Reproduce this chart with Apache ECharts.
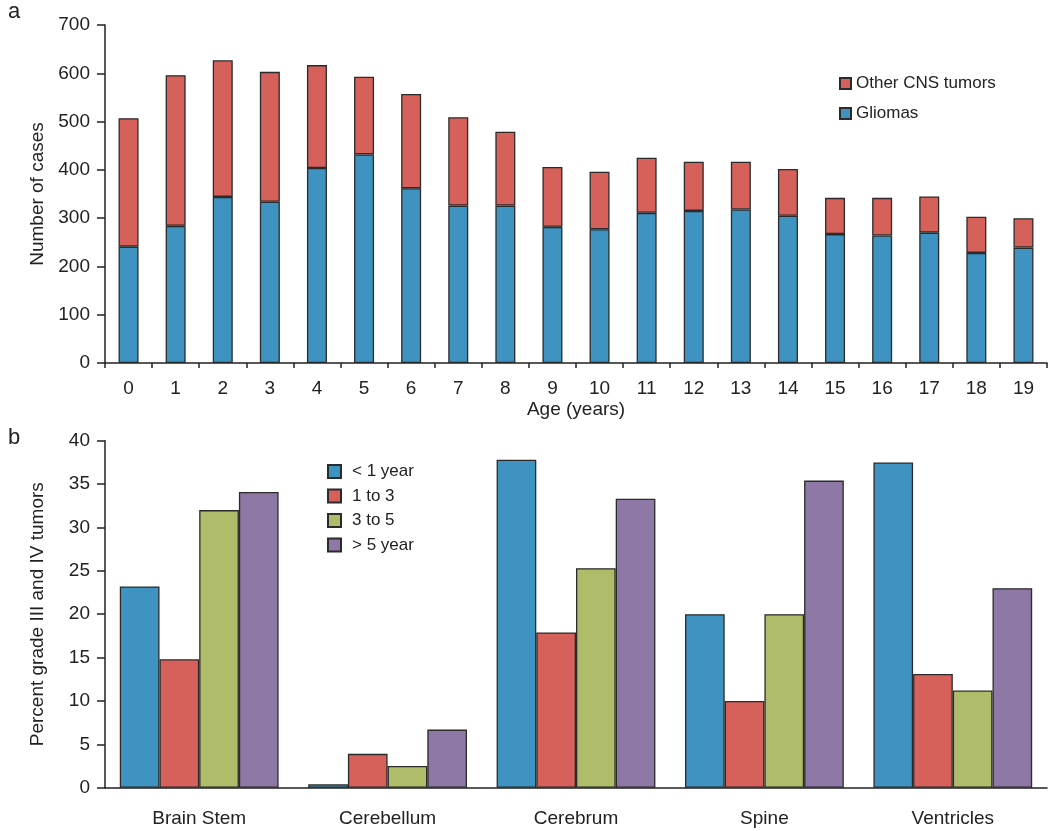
<!DOCTYPE html>
<html>
<head>
<meta charset="utf-8">
<script src="https://cdn.jsdelivr.net/npm/echarts@6/dist/echarts.min.js"></script>
<style>
html,body{margin:0;padding:0;background:#fff;}
#c{width:1050px;height:831px;}
</style>
</head>
<body>
<div id="c"></div>
<script>
// Panel a data
var ages = ['0','1','2','3','4','5','6','7','8','9','10','11','12','13','14','15','16','17','18','19'];
var gliomas = [241,284,344,334,404,432,362,326,326,282,277,311,315,318,305,267,264,270,228,239];
var totals  = [507,596,627,603,617,593,557,509,479,406,396,425,417,417,402,342,342,345,303,300];
var otherCNS = totals.map(function(t,i){ return t - gliomas[i]; });
var yTicksA = [0,100,200,300,400,500,600,700];

// Panel b data
var locations = ['Brain Stem','Cerebellum','Cerebrum','Spine','Ventricles'];
var lt1year  = [23.2, 0.4, 37.8, 20.0, 37.5];
var y1to3    = [14.8, 3.9, 17.9, 10.0, 13.1];
var y3to5    = [32.0, 2.5, 25.3, 20.0, 11.2];
var gt5year  = [34.1, 6.7, 33.3, 35.4, 23.0];

var cBlue = '#3f93c0', cRed = '#d5615a', cGreen = '#afbc69', cPurple = '#8d78a6';
var border = '#2b2b2b';
var font = 'Liberation Sans, Arial, sans-serif';
var txt = '#222';

var chart = echarts.init(document.getElementById('c'), null, {renderer:'canvas'});

function itemStyle(c){ return {color:c, borderColor:border, borderWidth:1.3}; }

var option = {
  animation:false,
  backgroundColor:'#fff',
  textStyle:{fontFamily:font, color:txt},
  graphic:[
    {type:'text', left:8, top:1, style:{text:'a', font:'22px '+font, fill:txt}},
    {type:'text', left:8, top:427, style:{text:'b', font:'22px '+font, fill:txt}}
  ],
  legend:[
    {orient:'vertical', left:834, top:70, itemWidth:11, itemHeight:11, itemGap:13,
     icon:'rect', data:['Other CNS tumors','Gliomas'],
     textStyle:{fontSize:17, color:txt, fontFamily:font}},
    {orient:'vertical', left:322, top:458, itemWidth:13, itemHeight:13, itemGap:7.5,
     icon:'rect', data:['< 1 year','1 to 3','3 to 5','> 5 year'],
     textStyle:{fontSize:17, color:txt, fontFamily:font, padding:[0,0,0,6]}}
  ],
  grid:[
    {left:105, right:3, top:25, height:338},
    {left:105, right:3, top:440.7, height:347}
  ],
  xAxis:[
    {type:'category', gridIndex:0, data:ages, boundaryGap:true,
     name:'Age (years)', nameLocation:'middle', nameGap:37,
     nameTextStyle:{fontSize:19, color:txt, fontFamily:font},
     axisLine:{lineStyle:{color:'#222', width:1.5}},
     axisTick:{show:true, alignWithLabel:false, length:5, lineStyle:{color:'#222', width:1.5}},
     axisLabel:{fontSize:19, color:txt, margin:16, interval:0}},
    {type:'category', gridIndex:1, data:locations,
     axisLine:{lineStyle:{color:'#222', width:1.5}},
     axisTick:{show:false},
     axisLabel:{fontSize:19, color:txt, margin:22}}
  ],
  yAxis:[
    {type:'value', gridIndex:0, min:0, max:700, interval:100,
     name:'Number of cases', nameLocation:'middle', nameGap:58,
     nameTextStyle:{fontSize:19, color:txt, fontFamily:font},
     axisLine:{show:true, lineStyle:{color:'#222', width:1.5}},
     axisTick:{show:true, length:8, lineStyle:{color:'#222', width:1.5}},
     splitLine:{show:false},
     axisLabel:{fontSize:19, color:txt, margin:15,
       formatter:function(v){ return yTicksA.indexOf(v) >= 0 ? String(v) : ''; }}},
    {type:'value', gridIndex:1, min:0, max:40, interval:5,
     name:'Percent grade III and IV tumors', nameLocation:'middle', nameGap:58,
     nameTextStyle:{fontSize:19, color:txt, fontFamily:font},
     axisLine:{show:true, lineStyle:{color:'#222', width:1.5}},
     axisTick:{show:true, length:8, lineStyle:{color:'#222', width:1.5}},
     splitLine:{show:false},
     axisLabel:{fontSize:19, color:txt, margin:15}}
  ],
  series:[
    {name:'Gliomas', type:'bar', stack:'a', xAxisIndex:0, yAxisIndex:0, data:gliomas,
     barWidth:20, itemStyle:itemStyle(cBlue)},
    {name:'Other CNS tumors', type:'bar', stack:'a', xAxisIndex:0, yAxisIndex:0, data:otherCNS,
     barWidth:20, itemStyle:itemStyle(cRed)},
    {name:'< 1 year', type:'bar', xAxisIndex:1, yAxisIndex:1, data:lt1year, barWidth:39.7, barGap:'0%', itemStyle:itemStyle(cBlue)},
    {name:'1 to 3', type:'bar', xAxisIndex:1, yAxisIndex:1, data:y1to3, barWidth:39.7, barGap:'0%', itemStyle:itemStyle(cRed)},
    {name:'3 to 5', type:'bar', xAxisIndex:1, yAxisIndex:1, data:y3to5, barWidth:39.7, barGap:'0%', itemStyle:itemStyle(cGreen)},
    {name:'> 5 year', type:'bar', xAxisIndex:1, yAxisIndex:1, data:gt5year, barWidth:39.7, barGap:'0%', itemStyle:itemStyle(cPurple)}
  ]
};
chart.setOption(option);
</script>
</body>
</html>
